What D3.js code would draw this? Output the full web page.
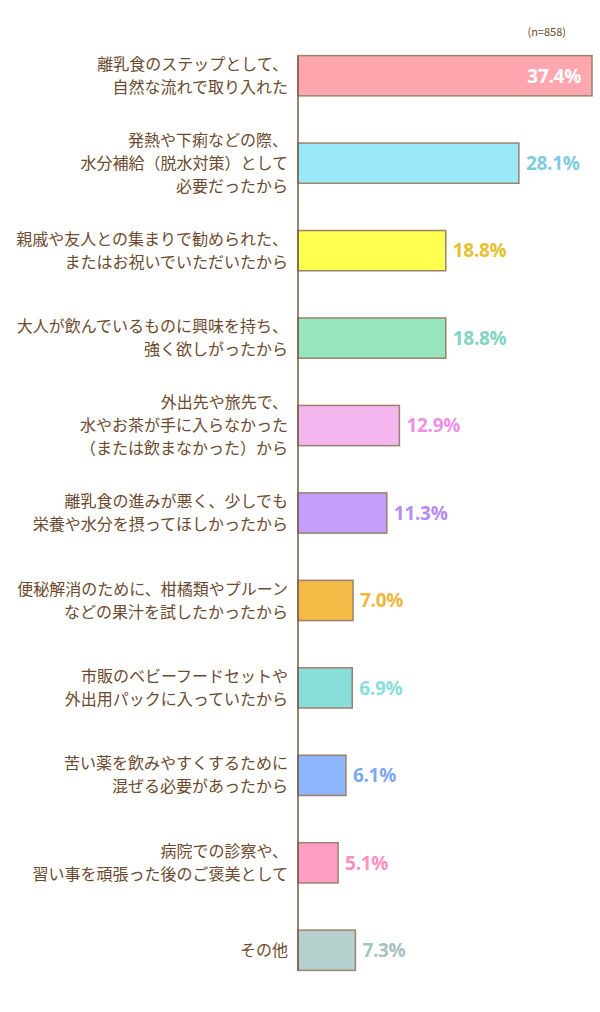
<!DOCTYPE html>
<html>
<head>
<meta charset="utf-8">
<script src="https://cdn.jsdelivr.net/npm/d3@7"></script>
<style>
  html, body { margin: 0; padding: 0; background: #fff; }
  svg { display: block; font-family: "Noto Sans CJK JP", "Noto Sans", sans-serif; }
</style>
</head>
<body>
<svg id="chart"></svg>
<script>
const categories = [
  ['離乳食のステップとして、', '自然な流れで取り入れた'],
  ['発熱や下痢などの際、', '水分補給（脱水対策）として', '必要だったから'],
  ['親戚や友人との集まりで勧められた、', 'またはお祝いでいただいたから'],
  ['大人が飲んでいるものに興味を持ち、', '強く欲しがったから'],
  ['外出先や旅先で、', '水やお茶が手に入らなかった', '（または飲まなかった）から'],
  ['離乳食の進みが悪く、少しでも', '栄養や水分を摂ってほしかったから'],
  ['便秘解消のために、柑橘類やプルーン', 'などの果汁を試したかったから'],
  ['市販のベビーフードセットや', '外出用パックに入っていたから'],
  ['苦い薬を飲みやすくするために', '混ぜる必要があったから'],
  ['病院での診察や、', '習い事を頑張った後のご褒美として'],
  ['その他']
]
const values = [37.4, 28.1, 18.8, 18.8, 12.9, 11.3, 7.0, 6.9, 6.1, 5.1, 7.3]
const barColors = ['#ffa6ae', '#9ae9fb', '#ffff4f', '#97e6bb', '#f5b6f0', '#c39dfb', '#f3bb45', '#89ded9', '#8db5fb', '#ff9dc4', '#b4d1cd']
const textColors = ['#ffffff', '#80cbe0', '#e5c12f', '#80d4c3', '#ee91e6', '#b48cf4', '#efb83d', '#89ded9', '#7ea8f2', '#ff8fbd', '#a6c2c0']
const sampleNote = '(n=858)'

const width = 600
const height = 1012
const brown = '#6b4a2f'

const svg = d3.select('#chart')
  .attr('width', width)
  .attr('height', height)

const x = d3.scaleLinear()
  .domain([0, 37.4])
  .range([298, 592])

const y = d3.scaleBand()
  .domain(d3.range(values.length))
  .range([32, 994])
  .paddingInner(0.54)
  .paddingOuter(0.27)

// n note
svg.append('text')
  .attr('x', 566)
  .attr('y', 36)
  .attr('text-anchor', 'end')
  .attr('fill', brown)
  .attr('font-size', '11px')
  .text(sampleNote)

// bars
svg.append('g')
  .selectAll('rect')
  .data(values)
  .join('rect')
  .attr('x', x(0))
  .attr('y', (d, i) => y(i))
  .attr('width', d => x(d) - x(0))
  .attr('height', y.bandwidth())
  .attr('fill', (d, i) => barColors[i])
  .attr('stroke', '#9a826c')
  .attr('stroke-width', 1.5)

// axis line
svg.append('line')
  .attr('x1', x(0))
  .attr('x2', x(0))
  .attr('y1', y(0))
  .attr('y2', y(values.length - 1) + y.bandwidth())
  .attr('stroke', '#7a5c44')
  .attr('stroke-width', 1.5)

// category labels
const lineH = 23
svg.append('g')
  .selectAll('text')
  .data(categories)
  .join('text')
  .attr('text-anchor', 'end')
  .attr('fill', brown)
  .attr('font-size', '16px')
  .each(function (lines, i) {
    const cy = y(i) + y.bandwidth() / 2
    const top = cy - (lines.length - 1) * lineH / 2
    d3.select(this).selectAll('tspan')
      .data(lines)
      .join('tspan')
      .attr('x', 288)
      .attr('y', (l, j) => top + j * lineH)
      .attr('dy', '0.35em')
      .text(l => l)
  })

// value labels
svg.append('g')
  .selectAll('text')
  .data(values)
  .join('text')
  .attr('x', (d, i) => i === 0 ? x(d) - 11 : x(d) + 7)
  .attr('y', (d, i) => y(i) + y.bandwidth() / 2)
  .attr('dy', '0.36em')
  .attr('text-anchor', (d, i) => i === 0 ? 'end' : 'start')
  .attr('fill', (d, i) => textColors[i])
  .attr('font-family', '"Open Sans", sans-serif')
  .attr('font-weight', 700)
  .attr('font-size', '19px')
  .attr('letter-spacing', '-0.3px')
  .text(d => d.toFixed(1) + '%')
</script>
</body>
</html>
